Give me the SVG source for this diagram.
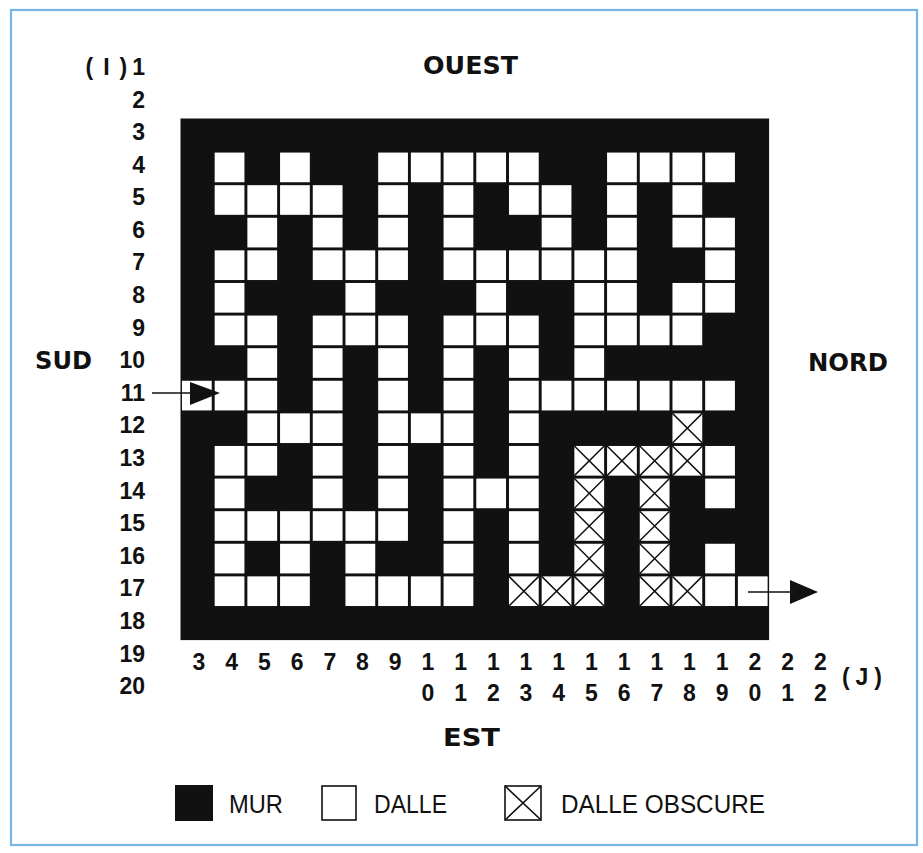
<svg xmlns="http://www.w3.org/2000/svg" width="923" height="853" viewBox="0 0 923 853">
<style>
.lbl{font-family:"Liberation Sans",Arial,sans-serif;font-weight:bold;font-size:23px;fill:#111}
.col{font-family:"Liberation Sans",Arial,sans-serif;font-weight:bold;font-size:23px;fill:#111;text-anchor:middle}
.dir{font-family:"DejaVu Sans",sans-serif;font-weight:bold;font-size:24px;fill:#111}
.leg{font-family:"Liberation Sans",Arial,sans-serif;font-size:25px;fill:#111}
.arr{stroke:#111;stroke-width:1.6;fill:none}
</style>
<defs>
<rect id="w" x="0.045" y="0.045" width="0.91" height="0.91" fill="#fff"/>
<g id="x"><rect x="0.045" y="0.045" width="0.91" height="0.91" fill="#fff"/><path d="M0.045 0.045L0.955 0.955M0.955 0.045L0.045 0.955" stroke="#111" stroke-width="0.045"/></g>
</defs>
<rect width="923" height="853" fill="#fff"/>
<rect x="11" y="10" width="906" height="835" fill="none" stroke="#74b6e8" stroke-width="2.2"/>

<g id="maze" transform="translate(180.5,118.5) scale(32.7,32.6)">
<rect x="0" y="0" width="18" height="16" fill="#111"/>
<!-- row 4 -->
<use href="#w" x="1" y="1"/><use href="#w" x="3" y="1"/><use href="#w" x="6" y="1"/><use href="#w" x="7" y="1"/><use href="#w" x="8" y="1"/><use href="#w" x="9" y="1"/><use href="#w" x="10" y="1"/><use href="#w" x="13" y="1"/><use href="#w" x="14" y="1"/><use href="#w" x="15" y="1"/><use href="#w" x="16" y="1"/>
<!-- row 5 -->
<use href="#w" x="1" y="2"/><use href="#w" x="2" y="2"/><use href="#w" x="3" y="2"/><use href="#w" x="4" y="2"/><use href="#w" x="6" y="2"/><use href="#w" x="8" y="2"/><use href="#w" x="10" y="2"/><use href="#w" x="11" y="2"/><use href="#w" x="13" y="2"/><use href="#w" x="15" y="2"/>
<!-- row 6 -->
<use href="#w" x="2" y="3"/><use href="#w" x="4" y="3"/><use href="#w" x="6" y="3"/><use href="#w" x="8" y="3"/><use href="#w" x="11" y="3"/><use href="#w" x="13" y="3"/><use href="#w" x="15" y="3"/><use href="#w" x="16" y="3"/>
<!-- row 7 -->
<use href="#w" x="1" y="4"/><use href="#w" x="2" y="4"/><use href="#w" x="4" y="4"/><use href="#w" x="5" y="4"/><use href="#w" x="6" y="4"/><use href="#w" x="8" y="4"/><use href="#w" x="9" y="4"/><use href="#w" x="10" y="4"/><use href="#w" x="11" y="4"/><use href="#w" x="12" y="4"/><use href="#w" x="13" y="4"/><use href="#w" x="16" y="4"/>
<!-- row 8 -->
<use href="#w" x="1" y="5"/><use href="#w" x="5" y="5"/><use href="#w" x="9" y="5"/><use href="#w" x="12" y="5"/><use href="#w" x="13" y="5"/><use href="#w" x="15" y="5"/><use href="#w" x="16" y="5"/>
<!-- row 9 -->
<use href="#w" x="1" y="6"/><use href="#w" x="2" y="6"/><use href="#w" x="4" y="6"/><use href="#w" x="5" y="6"/><use href="#w" x="6" y="6"/><use href="#w" x="8" y="6"/><use href="#w" x="9" y="6"/><use href="#w" x="10" y="6"/><use href="#w" x="12" y="6"/><use href="#w" x="13" y="6"/><use href="#w" x="14" y="6"/><use href="#w" x="15" y="6"/>
<!-- row 10 -->
<use href="#w" x="2" y="7"/><use href="#w" x="4" y="7"/><use href="#w" x="6" y="7"/><use href="#w" x="8" y="7"/><use href="#w" x="10" y="7"/><use href="#w" x="12" y="7"/>
<!-- row 11 -->
<use href="#w" x="0" y="8"/><use href="#w" x="1" y="8"/><use href="#w" x="2" y="8"/><use href="#w" x="4" y="8"/><use href="#w" x="6" y="8"/><use href="#w" x="8" y="8"/><use href="#w" x="10" y="8"/><use href="#w" x="11" y="8"/><use href="#w" x="12" y="8"/><use href="#w" x="13" y="8"/><use href="#w" x="14" y="8"/><use href="#w" x="15" y="8"/><use href="#w" x="16" y="8"/>
<!-- row 12 -->
<use href="#w" x="2" y="9"/><use href="#w" x="3" y="9"/><use href="#w" x="4" y="9"/><use href="#w" x="6" y="9"/><use href="#w" x="7" y="9"/><use href="#w" x="8" y="9"/><use href="#w" x="10" y="9"/><use href="#x" x="15" y="9"/>
<!-- row 13 -->
<use href="#w" x="1" y="10"/><use href="#w" x="2" y="10"/><use href="#w" x="4" y="10"/><use href="#w" x="6" y="10"/><use href="#w" x="8" y="10"/><use href="#w" x="10" y="10"/><use href="#w" x="16" y="10"/><use href="#x" x="12" y="10"/><use href="#x" x="13" y="10"/><use href="#x" x="14" y="10"/><use href="#x" x="15" y="10"/>
<!-- row 14 -->
<use href="#w" x="1" y="11"/><use href="#w" x="4" y="11"/><use href="#w" x="6" y="11"/><use href="#w" x="8" y="11"/><use href="#w" x="9" y="11"/><use href="#w" x="10" y="11"/><use href="#w" x="16" y="11"/><use href="#x" x="12" y="11"/><use href="#x" x="14" y="11"/>
<!-- row 15 -->
<use href="#w" x="1" y="12"/><use href="#w" x="2" y="12"/><use href="#w" x="3" y="12"/><use href="#w" x="4" y="12"/><use href="#w" x="5" y="12"/><use href="#w" x="6" y="12"/><use href="#w" x="8" y="12"/><use href="#w" x="10" y="12"/><use href="#x" x="12" y="12"/><use href="#x" x="14" y="12"/>
<!-- row 16 -->
<use href="#w" x="1" y="13"/><use href="#w" x="3" y="13"/><use href="#w" x="5" y="13"/><use href="#w" x="8" y="13"/><use href="#w" x="10" y="13"/><use href="#w" x="16" y="13"/><use href="#x" x="12" y="13"/><use href="#x" x="14" y="13"/>
<!-- row 17 -->
<use href="#w" x="1" y="14"/><use href="#w" x="2" y="14"/><use href="#w" x="3" y="14"/><use href="#w" x="5" y="14"/><use href="#w" x="6" y="14"/><use href="#w" x="7" y="14"/><use href="#w" x="8" y="14"/><use href="#w" x="16" y="14"/><use href="#w" x="17" y="14"/><use href="#x" x="10" y="14"/><use href="#x" x="11" y="14"/><use href="#x" x="12" y="14"/><use href="#x" x="14" y="14"/><use href="#x" x="15" y="14"/>
</g>

<g id="arrows">
<path class="arr" d="M152 393H192"/>
<path d="M190 382L220 393L190 405Z" fill="#111"/>
<path class="arr" d="M748 592H792"/>
<path d="M790 580L818 592L790 604Z" fill="#111"/>
</g>

<g id="row-labels" class="lbl" text-anchor="end">
<text x="145" y="75">(<tspan dx="10">I</tspan><tspan dx="10">)</tspan><tspan dx="5">1</tspan></text>
<text x="145" y="107.5">2</text>
<text x="145" y="140">3</text>
<text x="145" y="172.6">4</text>
<text x="145" y="205.2">5</text>
<text x="145" y="237.8">6</text>
<text x="145" y="270.4">7</text>
<text x="145" y="303">8</text>
<text x="145" y="335.6">9</text>
<text x="145" y="368.2">10</text>
<text x="145" y="400.8">11</text>
<text x="145" y="433.4">12</text>
<text x="145" y="466">13</text>
<text x="145" y="498.6">14</text>
<text x="145" y="531.2">15</text>
<text x="145" y="563.8">16</text>
<text x="145" y="596.4">17</text>
<text x="145" y="629">18</text>
<text x="145" y="661.6">19</text>
<text x="145" y="694.2">20</text>
</g>

<g id="col-labels" class="col">
<text x="199" y="670">3</text>
<text x="231.7" y="670">4</text>
<text x="264.4" y="670">5</text>
<text x="297.1" y="670">6</text>
<text x="329.8" y="670">7</text>
<text x="362.5" y="670">8</text>
<text x="395.2" y="670">9</text>
<text x="427.9" y="670">1</text><text x="427.9" y="701">0</text>
<text x="460.6" y="670">1</text><text x="460.6" y="701">1</text>
<text x="493.3" y="670">1</text><text x="493.3" y="701">2</text>
<text x="526" y="670">1</text><text x="526" y="701">3</text>
<text x="558.7" y="670">1</text><text x="558.7" y="701">4</text>
<text x="591.4" y="670">1</text><text x="591.4" y="701">5</text>
<text x="624.1" y="670">1</text><text x="624.1" y="701">6</text>
<text x="656.8" y="670">1</text><text x="656.8" y="701">7</text>
<text x="689.5" y="670">1</text><text x="689.5" y="701">8</text>
<text x="722.2" y="670">1</text><text x="722.2" y="701">9</text>
<text x="754.9" y="670">2</text><text x="754.9" y="701">0</text>
<text x="787.6" y="670">2</text><text x="787.6" y="701">1</text>
<text x="820.3" y="670">2</text><text x="820.3" y="701">2</text>
<text x="862" y="685" textLength="40" lengthAdjust="spacing">(J)</text>
</g>

<g id="directions" class="dir">
<text x="423" y="74" textLength="95" lengthAdjust="spacingAndGlyphs">OUEST</text>
<text x="35" y="369" textLength="57" lengthAdjust="spacingAndGlyphs">SUD</text>
<text x="808" y="371" textLength="80" lengthAdjust="spacingAndGlyphs">NORD</text>
<text x="443" y="746" textLength="57" lengthAdjust="spacingAndGlyphs">EST</text>
</g>

<g id="legend">
<rect x="175" y="785" width="38" height="36" fill="#111"/>
<text class="leg" x="229" y="813" textLength="54" lengthAdjust="spacingAndGlyphs">MUR</text>
<rect x="322" y="786" width="34" height="34" fill="#fff" stroke="#111" stroke-width="1.6"/>
<text class="leg" x="374" y="813" textLength="73" lengthAdjust="spacingAndGlyphs">DALLE</text>
<rect x="505" y="786" width="36" height="34" fill="#fff" stroke="#111" stroke-width="1.6"/>
<path d="M505 786L541 820M541 786L505 820" stroke="#111" stroke-width="1.6"/>
<text class="leg" x="561" y="813" textLength="204" lengthAdjust="spacingAndGlyphs">DALLE OBSCURE</text>
</g>
</svg>
